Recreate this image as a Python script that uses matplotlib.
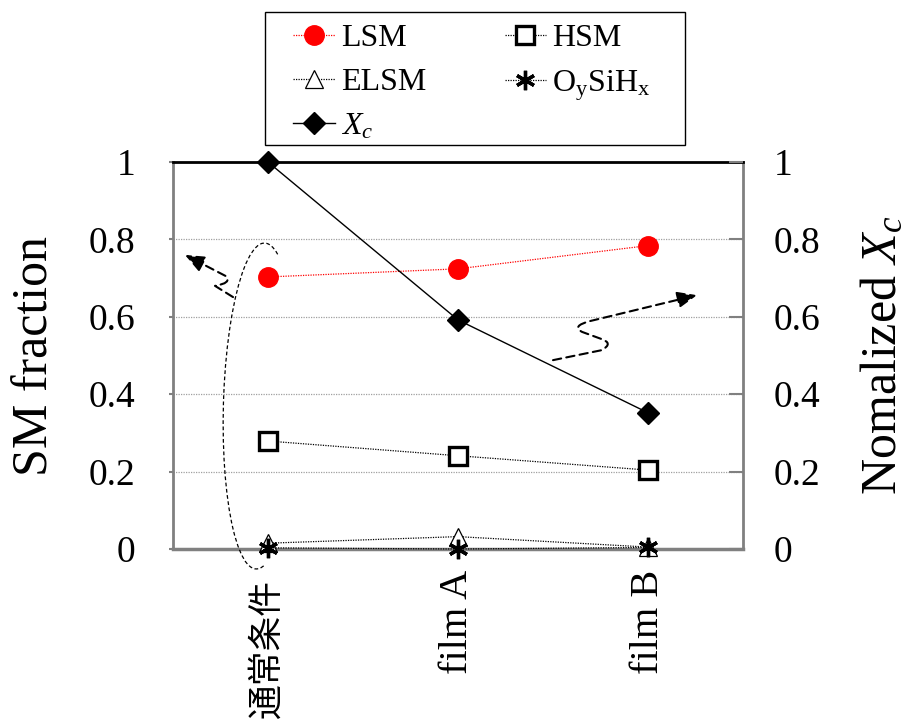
import numpy as np
import matplotlib
matplotlib.use("Agg")
import matplotlib.pyplot as plt
import matplotlib.transforms as mtransforms
from matplotlib.path import Path
from matplotlib.patches import Arc, FancyArrowPatch, Rectangle

plt.rcParams['font.family'] = ['Liberation Serif', 'Noto Sans CJK JP']
plt.rcParams['mathtext.fontset'] = 'custom'
plt.rcParams['mathtext.rm'] = 'Liberation Serif'
plt.rcParams['mathtext.it'] = 'Liberation Serif:italic'

# データ
conditions = ['通常条件', 'film A', 'film B']
lsm = [0.703, 0.724, 0.784]
hsm = [0.279, 0.241, 0.204]
elsm = [0.015, 0.032, 0.005]
oysihx = [0.003, 0.0, 0.004]
xc = [1.0, 0.592, 0.352]
yticks = [0, 0.2, 0.4, 0.6, 0.8, 1]
ytick_labels = ['0', '0.2', '0.4', '0.6', '0.8', '1']

x = np.arange(len(conditions))

fig = plt.figure(figsize=(9.09, 7.22), dpi=100)
ax = fig.add_axes([0.1903, 0.2396, 0.6271, 0.5360])
ax2 = ax.twinx()

dot = (0, (1, 1))
l_lsm, = ax.plot(x, lsm, color='red', lw=0.9, ls=dot, marker='o', ms=14,
                 mfc='red', mec='red', clip_on=False, zorder=4, label='LSM')
l_hsm, = ax.plot(x, hsm, color='k', lw=0.9, ls=dot, marker='s', ms=13,
                 mfc='white', mec='k', mew=2.4, clip_on=False, zorder=4, label='HSM')
l_elsm, = ax.plot(x, elsm, color='k', lw=0.9, ls=dot, marker='^', ms=13,
                  mfc='white', mec='k', mew=0.9, clip_on=False, zorder=4, label='ELSM')
l_oy, = ax.plot(x, oysihx, color='k', lw=0.9, ls=dot, marker=(6, 2, 0), ms=14,
                mec='k', mew=2.4, clip_on=False, zorder=5,
                label=r'O$_\mathregular{y}$SiH$_\mathregular{x}$')
l_xc, = ax2.plot(x, xc, color='k', lw=1.0, ls='-', marker='D', ms=11,
                 mfc='k', mec='k', clip_on=False, zorder=4, label=r'$X_c$')

for a in (ax, ax2):
    a.set_xlim(-0.5, 2.5)
    a.set_ylim(0, 1)
    a.set_yticks(yticks)
    a.set_yticklabels(ytick_labels, fontsize=27)

ax.set_xticks(x)
ax.set_xticklabels(conditions, rotation=90, fontsize=29)
ax.tick_params(axis='x', length=0, pad=15)
ax.tick_params(axis='y', length=3, width=1.5, color='gray', pad=24)
ax2.tick_params(axis='y', direction='in', length=10, width=1.5, color='gray', pad=22)

# 日本語ラベルは少し小さく、下げて配置
jp = ax.get_xticklabels()[0]
jp.set_fontsize(25)
jp.set_transform(jp.get_transform() +
                 mtransforms.ScaledTranslation(0, -9 / 100, fig.dpi_scale_trans))

ax.yaxis.grid(True, color='#a0a0a0', lw=0.9, ls=dot)
ax.set_axisbelow(True)

for s in ax2.spines.values():
    s.set_visible(False)
ax.spines['top'].set_color('k')
ax.spines['top'].set_linewidth(2)
for side in ('left', 'right', 'bottom'):
    ax.spines[side].set_color('gray')
    ax.spines[side].set_linewidth(2)
ax.spines['bottom'].set_linewidth(2.5)

ax.set_ylabel('SM fraction', fontsize=36, labelpad=22)
ax2.set_ylabel(r'Nomalized $X_c$', fontsize=36, labelpad=29)

# 通常条件の点を囲む楕円
ring = Arc((0, 0), 0.74, 3.26, angle=-1.5, theta1=85, theta2=273,
           transform=fig.dpi_scale_trans + mtransforms.ScaledTranslation(
               -0.04, 0.3695, ax.transData),
           color='k', lw=0.9, ls=(0, (3, 2)), clip_on=False, zorder=6)
ax.add_patch(ring)

# 軸を指す波線の矢印
head = '-|>,head_length=0.6,head_width=0.25'
p_left = Path([(-0.184, 0.651), (-0.279, 0.680), (-0.189, 0.687), (-0.221, 0.705),
               (-0.437, 0.760)],
              [Path.MOVETO, Path.LINETO, Path.CURVE3, Path.CURVE3, Path.LINETO])
p_right = Path([(1.500, 0.488), (1.758, 0.514), (1.821, 0.532), (1.753, 0.543),
                (1.653, 0.561), (1.595, 0.576), (1.695, 0.589), (2.258, 0.656)],
               [Path.MOVETO, Path.LINETO, Path.CURVE3, Path.CURVE3, Path.LINETO,
                Path.CURVE3, Path.CURVE3, Path.LINETO])
for p in (p_left, p_right):
    ax.add_patch(FancyArrowPatch(path=p, arrowstyle=head, mutation_scale=20,
                                 color='k', lw=1.5, ls=(0, (4, 2.5)),
                                 clip_on=False, zorder=6))

# 凡例（枠は別に描く）
handles = [l_lsm, l_elsm, l_xc, l_hsm, l_oy]
leg = fig.legend(handles=handles, ncol=2, loc='upper left',
                 bbox_to_anchor=(293 / 909, 1 - 24 / 722), fontsize=23,
                 frameon=False, handlelength=1.3, handletextpad=0.2,
                 columnspacing=2.45, labelspacing=0.46, borderpad=0,
                 borderaxespad=0)
fig.add_artist(Rectangle((265 / 909, 1 - 145 / 722), 420 / 909, 133 / 722,
                         transform=fig.transFigure, fill=False,
                         edgecolor='k', lw=1.0))

fig.savefig('out.png', dpi=100)
